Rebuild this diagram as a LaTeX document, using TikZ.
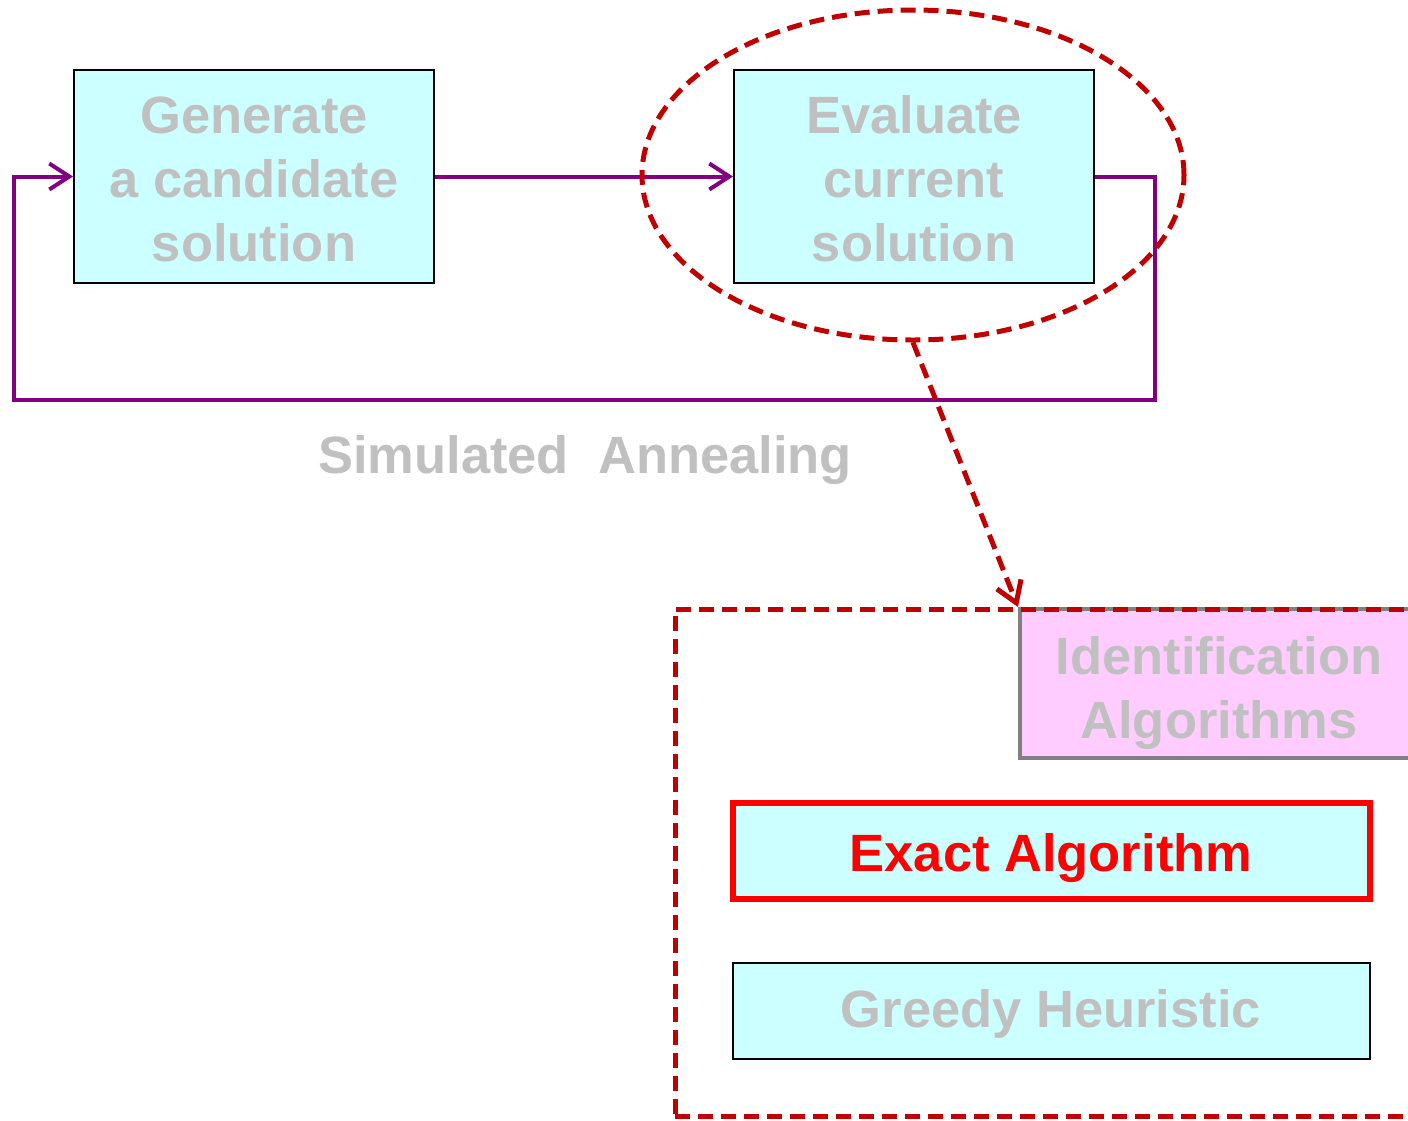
\documentclass[tikz,border=0pt]{standalone}
\usepackage{fontspec}
\setmainfont{Liberation Sans}
\usetikzlibrary{positioning, arrows.meta, shapes.geometric}
\definecolor{boxcyan}{HTML}{CCFFFF}
\definecolor{boxpink}{HTML}{FFCCFF}
\definecolor{fadegray}{HTML}{C0C0C0}
\definecolor{loopviolet}{HTML}{800080}
\definecolor{darkred}{HTML}{C00000}
\newcommand{\dropstrut}[1]{\rule{0pt}{#1}}
\tikzset{
  % --- process boxes ---
  textdrop/.style={execute at begin node={\dropstrut{#1}}},
  stepbox/.style={draw, rectangle, fill=boxcyan, line width=2pt, inner sep=0pt,
    font=\fontsize{52.5}{64}\selectfont\bfseries, text=fadegray, align=center,
    minimum width=360pt, minimum height=213pt},
  algbox/.style={stepbox, minimum width=637pt, minimum height=96pt},
  groupbox/.style={stepbox, fill=boxpink, draw=gray, line width=4pt,
    minimum width=398pt, minimum height=149pt},
  % --- highlight marks ---
  focusmark/.style={draw=darkred, line width=5pt, dash pattern=on 15pt off 8pt},
  % --- connectors ---
  flow/.style={draw=loopviolet, line width=4pt,
    -{Straight Barb[length=20pt, width=26pt]}},
  zoomlink/.style={focusmark, -{Straight Barb[length=20pt, width=26pt]}},
}

\begin{document}
\begin{tikzpicture}[x=1pt, y=-1pt]
    \path[use as bounding box, clip] (0,0) rectangle (1408,1120);

    % ---- simulated annealing loop ----
    \node[stepbox] (gen) at (254,176.5) {\dropstrut{42pt}Generate\\a candidate\\solution};
    \node[stepbox, right=298pt of gen] (eval) {\dropstrut{42pt}Evaluate\\current\\solution};
    \node[font=\fontsize{52.5}{64}\selectfont\bfseries, text=fadegray] (sa)
      at (585,460) {Simulated\ \ Annealing};

    \coordinate (loopR) at (1155,400);
    \coordinate (loopL) at (14,400);
    \draw[flow] (gen.east) -- (eval.west);
    \draw[flow] (eval.east) -- (eval.east -| loopR) -- (loopR) -- (loopL)
      -- (loopL |- gen.west) -- (gen.west);

    % ---- highlight round the evaluation step ----
    \node[focusmark, ellipse, minimum width=542pt, minimum height=330pt] (focus)
      at (913,175) {};

    % ---- identification algorithms ----
    \node[groupbox] (ident) at (1219,683.5) {\dropstrut{58pt}Identification\\Algorithms};
    \node[focusmark, rectangle, minimum width=755pt, minimum height=507pt] (frame)
      at (1052.5,862.5) {};
    \node[algbox, draw=red, line width=6pt, text=red, textdrop=52pt] (exact)
      at (1051,851) {Exact Algorithm};
    \node[algbox, below=60pt of exact, textdrop=44pt] (greedy) {Greedy Heuristic};

    \draw[zoomlink] (focus.south) -- (ident.north west);
\end{tikzpicture}
\end{document}
